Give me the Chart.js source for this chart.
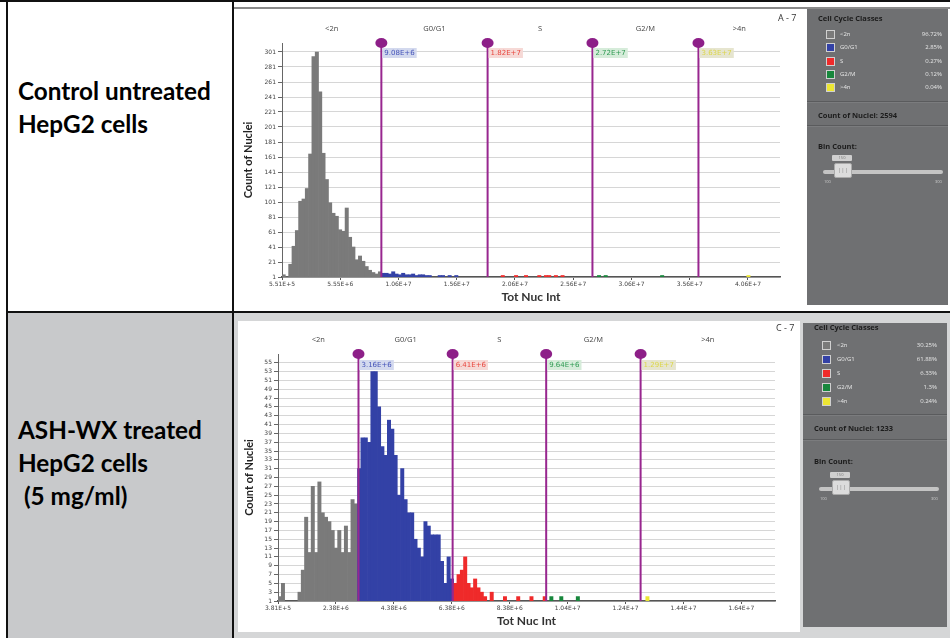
<!DOCTYPE html>
<html lang="en">
<head>
<meta charset="UTF-8">
<title>Cell cycle histograms - HepG2</title>
<style>
    body {
        margin: 0;
        width: 950px;
        height: 638px;
        position: relative;
        overflow: hidden;
        background: #fff;
        font-family: Lato, "Liberation Sans", sans-serif;
    }
    .abs { position: absolute; }
    .rowLabel {
        font-weight: bold;
        font-size: 24.3px;
        line-height: 33px;
        color: #000;
        white-space: pre;
    }
    .chartBox { background: #fff; }
    .panel {
        background: #6f7072;
        color: #e6e6e6;
        font-family: "Open Sans", sans-serif;
    }
    .panel .head {
        position: absolute;
        left: 11px;
        font-weight: bold;
        font-size: 7.5px;
        color: #1c1c1c;
        line-height: 10px;
    }
    .panel .row { position: absolute; left: 0; right: 0; height: 10px; font-size: 6px; line-height: 10px; }
    .panel .sw { position: absolute; top: 1px; width: 7px; height: 7px; border: 1px solid #d0d0d0; }
    .panel .nm { position: absolute; }
    .panel .pc { position: absolute; text-align: right; }
    .panel .sep { position: absolute; left: 0; right: 0; height: 0; border-top: 1px solid #5a5b5d; border-bottom: 1px solid #7b7c7e; }
    .track { position: absolute; height: 4px; background: #c4c4c4; border-radius: 2px; }
    .thumb { position: absolute; background: #dcdcdc; border: 1px solid #aaa; border-radius: 2px;
             font-size: 6px; color: #888; text-align: center; line-height: 13px; }
    .tip { position: absolute; background: #cfcfcf; border-radius: 1px; font-size: 4px; color: #777;
           text-align: center; line-height: 6px; }
    .end { position: absolute; font-size: 4px; color: #ccc; }
    .well { position: absolute; font-size: 9px; color: #333; font-family: "Open Sans", sans-serif; }
</style>
<script src="https://cdn.jsdelivr.net/npm/chart.js"></script>
</head>
<body>

<!-- table cells -->
<div class="abs" style="left:234px; top:313px; width:716px; height:325px; background:#d5d6d7;"></div>
<div class="abs" style="left:8px; top:313px; width:224px; height:325px; background:#c8c9cb;"></div>
<div class="abs" style="left:234px; top:7px; width:716px; height:2px; background:#8a8a8a;"></div>

<!-- grid lines of the figure table -->
<div class="abs" style="left:0; top:0; width:950px; height:2px; background:#111;"></div>
<div class="abs" style="left:6px; top:0; width:2px; height:638px; background:#111;"></div>
<div class="abs" style="left:232px; top:0; width:2px; height:638px; background:#111;"></div>
<div class="abs" style="left:6px; top:311px; width:944px; height:2px; background:#111;"></div>

<div class="abs rowLabel" style="left:18px; top:74px;">Control untreated
HepG2 cells</div>
<div class="abs rowLabel" style="left:18px; top:413px;">ASH-WX treated
HepG2 cells
 (5 mg/ml)</div>

<!-- charts -->
<div class="abs chartBox" style="left:237px; top:9px; width:568px; height:296px;">
    <canvas id="ctrlChart"></canvas>
</div>
<div class="abs chartBox" style="left:238px; top:321px; width:562px; height:311px;">
    <canvas id="treatChart"></canvas>
</div>
<div class="well" style="left:778px; top:11px;">A - 7</div>
<div class="well" style="left:776px; top:321px;">C - 7</div>

<!-- side panels -->
<div class="abs panel" id="ctrlPanel" style="left:807px; top:9px; width:141px; height:296px;"></div>
<div class="abs panel" id="treatPanel" style="left:803px; top:323px; width:144px; height:304px;"></div>

<script>
    // Classes and their colours
    const classNames = ['<2n', 'G0/G1', 'S', 'G2/M', '>4n'];
    const classColors = ['#7a7a7a', '#3341a6', '#ef2a2a', '#17873c', '#ece633'];
    const gateText = ['#555555', '#4352b8', '#e8473f', '#2e9a52', '#dcd64a'];
    const gateBox = ['#eeeeee', '#d3d9ee', '#f6d9d6', '#d6ecda', '#e6e5cf'];

    // Control untreated HepG2 (A - 7), 150 bins
    const ctrlCounts = [
        4, 1, 18, 42, 63, 102, 105, 119, 165, 295,
        301, 248, 166, 131, 100, 86, 82, 64, 62, 93,
        54, 41, 24, 29, 22, 15, 10, 7, 5, 8,
        6, 6, 5, 8, 5, 4, 6, 4, 4, 5,
        3, 4, 4, 3, 3, 0, 0, 3, 3, 0,
        3, 0, 3, 0, 0, 0, 0, 0, 0, 0,
        0, 0, 0, 0, 0, 0, 3, 0, 0, 0,
        3, 0, 0, 3, 0, 0, 0, 3, 0, 3,
        3, 0, 3, 0, 3, 0, 0, 0, 0, 0,
        0, 0, 0, 0, 0, 3, 0, 3, 0, 0,
        0, 0, 0, 0, 0, 0, 0, 0, 0, 0,
        0, 0, 0, 0, 3, 0, 0, 0, 0, 0,
        0, 0, 0, 0, 0, 0, 0, 0, 0, 0,
        0, 0, 0, 0, 0, 0, 0, 0, 0, 0,
        3, 0, 0, 0, 0, 0, 0, 0, 0, 0
    ];
    const ctrlRange = [551000, 43300000];
    const ctrlGates = [9.08e6, 1.82e7, 2.72e7, 3.63e7];
    const ctrlXTicks = [551000, 5551000, 10551000, 15551000, 20551000, 25551000, 30551000, 35551000, 40551000];
    const ctrlYTicks = [1, 21, 41, 61, 81, 101, 121, 141, 161, 181, 201, 221, 241, 261, 281, 301];
    const ctrlYMax = 313;
    const ctrlPercents = ['96.72%', '2.85%', '0.27%', '0.12%', '0.04%'];
    const ctrlNuclei = 2594;

    // ASH-WX treated HepG2 (C - 7), 150 bins
    const treatCounts = [
        2, 5, 0, 0, 0, 0, 3, 8, 20, 12,
        27, 12, 28, 21, 20, 19, 17, 13, 17, 12,
        18, 12, 24, 23, 31, 38, 38, 37, 53, 53,
        45, 36, 34, 42, 40, 34, 25, 31, 24, 21,
        21, 15, 13, 11, 19, 18, 16, 16, 16, 10,
        5, 11, 6, 5, 7, 8, 11, 5, 4, 6,
        4, 3, 2, 0, 3, 0, 0, 0, 2, 0,
        0, 0, 2, 0, 0, 0, 2, 0, 0, 0,
        2, 0, 2, 0, 0, 2, 0, 0, 0, 0,
        2, 0, 0, 0, 0, 0, 0, 0, 0, 0,
        0, 0, 0, 0, 0, 0, 0, 0, 0, 0,
        0, 2, 0, 0, 0, 0, 0, 0, 0, 0,
        0, 0, 0, 0, 0, 0, 0, 0, 0, 0,
        0, 0, 0, 0, 0, 0, 0, 0, 0, 0,
        0, 0, 0, 0, 0, 0, 0, 0, 0, 0
    ];
    const treatRange = [381000, 17540000];
    const treatGates = [3.16e6, 6.41e6, 9.64e6, 1.29e7];
    const treatXTicks = [381000, 2381000, 4381000, 6381000, 8381000, 10381000, 12381000, 14381000, 16381000];
    const treatYTicks = [1, 3, 5, 7, 9, 11, 13, 15, 17, 19, 21, 23, 25, 27, 29, 31, 33, 35, 37, 39, 41, 43, 45, 47, 49, 51, 53, 55];
    const treatYMax = 57;
    const treatPercents = ['30.25%', '61.88%', '6.33%', '1.3%', '0.24%'];
    const treatNuclei = 1233;

    const sci = v => v.toExponential(2).toUpperCase();

    // gate markers, value boxes and class names over the plot
    const gatePlugin = {
        id: 'gates',
        afterDatasetsDraw(chart, args, opts) {
            const {ctx, chartArea: a} = chart;
            const x = chart.scales.x;
            const px = opts.gates.map(g => x.getPixelForValue(g));
            const edges = [a.left, ...px, a.right];
            ctx.save();
            ctx.font = '7.5px "Open Sans"';
            ctx.fillStyle = '#444';
            ctx.textAlign = 'center';
            ctx.textBaseline = 'middle';
            classNames.forEach((n, i) => ctx.fillText(n, (edges[i] + edges[i + 1]) / 2, a.top - opts.nameGap));

            px.forEach((p, i) => {
                ctx.strokeStyle = '#98268f';
                ctx.lineWidth = 2;
                ctx.beginPath();
                ctx.moveTo(p, a.top);
                ctx.lineTo(p, a.bottom);
                ctx.stroke();
                ctx.fillStyle = '#8d1f88';
                ctx.beginPath();
                ctx.ellipse(p, a.top, 6, 5, 0, 0, Math.PI * 2);
                ctx.fill();

                const txt = sci(opts.gates[i]);
                ctx.font = '7px "DejaVu Sans"';
                const w = ctx.measureText(txt).width + 4;
                ctx.fillStyle = gateBox[i + 1];
                ctx.fillRect(p + 1, a.top + opts.boxGap - 5, w, 10);
                ctx.fillStyle = gateText[i + 1];
                ctx.textAlign = 'left';
                ctx.fillText(txt, p + 3, a.top + opts.boxGap);
                ctx.textAlign = 'center';
                ctx.font = '7.5px "Open Sans"';
            });
            ctx.restore();
        }
    };

    function drawHistogram(id, counts, range, gates, xTicks, yTicks, yMax, box) {
        const binW = (range[1] - range[0]) / counts.length;
        const points = [];
        const colors = [];
        counts.forEach((c, i) => {
            if (!c) return;
            const xv = range[0] + (i + 0.5) * binW;
            points.push({x: xv, y: c});
            colors.push(classColors[gates.filter(g => g <= xv).length]);
        });

        new Chart(document.getElementById(id), {
            type: 'bar',
            data: {
                datasets: [{
                    data: points,
                    backgroundColor: colors,
                    borderWidth: 0,
                    barPercentage: 1,
                    categoryPercentage: 1
                }]
            },
            plugins: [gatePlugin],
            options: {
                responsive: true,
                maintainAspectRatio: false,
                animation: false,
                layout: {padding: {top: box.top, right: box.right, left: 0, bottom: 0}},
                plugins: {
                    legend: {display: false},
                    tooltip: {enabled: false},
                    gates: {gates: gates, nameGap: box.nameGap, boxGap: box.boxGap}
                },
                scales: {
                    x: {
                        type: 'linear',
                        offset: false,
                        min: range[0],
                        max: range[1],
                        afterBuildTicks: s => { s.ticks = xTicks.map(v => ({value: v})); },
                        afterFit: s => { s.height = box.xHeight; },
                        ticks: {
                            callback: v => sci(v),
                            font: {size: 6, family: 'DejaVu Sans'},
                            color: '#444',
                            maxRotation: 0,
                            autoSkip: false,
                            padding: 1
                        },
                        grid: {drawOnChartArea: false, offset: false, tickLength: 3, tickColor: '#555'},
                        border: {color: '#555', width: 1.5},
                        title: {
                            display: true,
                            text: 'Tot Nuc Int',
                            font: {size: 12, weight: 'bold', family: 'Lato'},
                            color: '#333',
                            padding: {top: 0, bottom: box.xTitlePad}
                        }
                    },
                    y: {
                        min: 1,
                        max: yMax,
                        afterBuildTicks: s => { s.ticks = yTicks.map(v => ({value: v})); },
                        afterFit: s => { s.width = box.yWidth; },
                        ticks: {
                            font: {size: 6, family: 'DejaVu Sans'},
                            color: '#444',
                            padding: 2,
                            autoSkip: false
                        },
                        grid: {color: '#d6d6d6', tickLength: 4, tickColor: '#666'},
                        border: {color: '#666', width: 1},
                        title: {
                            display: true,
                            text: 'Count of Nuclei',
                            font: {size: 11, weight: 'bold', family: 'Lato'},
                            color: '#222',
                            padding: {top: box.yTitlePad, bottom: 0}
                        }
                    }
                }
            }
        });
    }

    function buildPanel(id, percents, nuclei, lay) {
        const el = document.getElementById(id);
        let html = `<div class="head" style="top:${lay.headTop}px;">Cell Cycle Classes</div>`;
        classNames.forEach((n, i) => {
            html += `<div class="row" style="top:${lay.rowTop + i * lay.rowStep}px;">` +
                `<div class="sw" style="left:${lay.swLeft}px; background:${classColors[i]};"></div>` +
                `<div class="nm" style="left:${lay.nameLeft}px;">${n.replace('<', '&lt;').replace('>', '&gt;')}</div>` +
                `<div class="pc" style="right:${lay.pcRight}px;">${percents[i]}</div></div>`;
        });
        html += `<div class="sep" style="top:${lay.sep1}px;"></div>`;
        html += `<div class="head" style="top:${lay.countTop}px;">Count of Nuclei: ${nuclei}</div>`;
        html += `<div class="sep" style="top:${lay.sep2}px;"></div>`;
        html += `<div class="head" style="top:${lay.binTop}px;">Bin Count:</div>`;
        html += `<div class="track" style="left:16px; width:120px; top:${lay.trackTop}px;"></div>`;
        html += `<div class="tip" style="left:${lay.thumbLeft - 2}px; width:20px; top:${lay.trackTop - 15}px;">150</div>`;
        html += `<div class="thumb" style="left:${lay.thumbLeft}px; width:16px; height:13px; top:${lay.trackTop - 7}px;">|||</div>`;
        html += `<div class="end" style="left:17px; top:${lay.trackTop + 9}px;">100</div>`;
        html += `<div class="end" style="left:128px; top:${lay.trackTop + 9}px;">300</div>`;
        el.innerHTML = html;
    }

    drawHistogram('ctrlChart', ctrlCounts, ctrlRange, ctrlGates, ctrlXTicks, ctrlYTicks, ctrlYMax,
        {top: 34, right: 25, yWidth: 45, xHeight: 28, xTitlePad: 1, yTitlePad: 5, nameGap: 14, boxGap: 10});
    drawHistogram('treatChart', treatCounts, treatRange, treatGates, treatXTicks, treatYTicks, treatYMax,
        {top: 33, right: 25, yWidth: 40, xHeight: 31, xTitlePad: 4, yTitlePad: 5, nameGap: 14, boxGap: 11});

    buildPanel('ctrlPanel', ctrlPercents, ctrlNuclei,
        {headTop: 4, rowTop: 20, rowStep: 13.3, swLeft: 19, nameLeft: 33, pcRight: 6,
         sep1: 92, countTop: 101, sep2: 116, binTop: 132, trackTop: 161, thumbLeft: 27});
    buildPanel('treatPanel', treatPercents, treatNuclei,
        {headTop: -1, rowTop: 17, rowStep: 14, swLeft: 19, nameLeft: 34, pcRight: 10,
         sep1: 91, countTop: 100, sep2: 116, binTop: 133, trackTop: 164, thumbLeft: 29});
</script>
</body>
</html>
